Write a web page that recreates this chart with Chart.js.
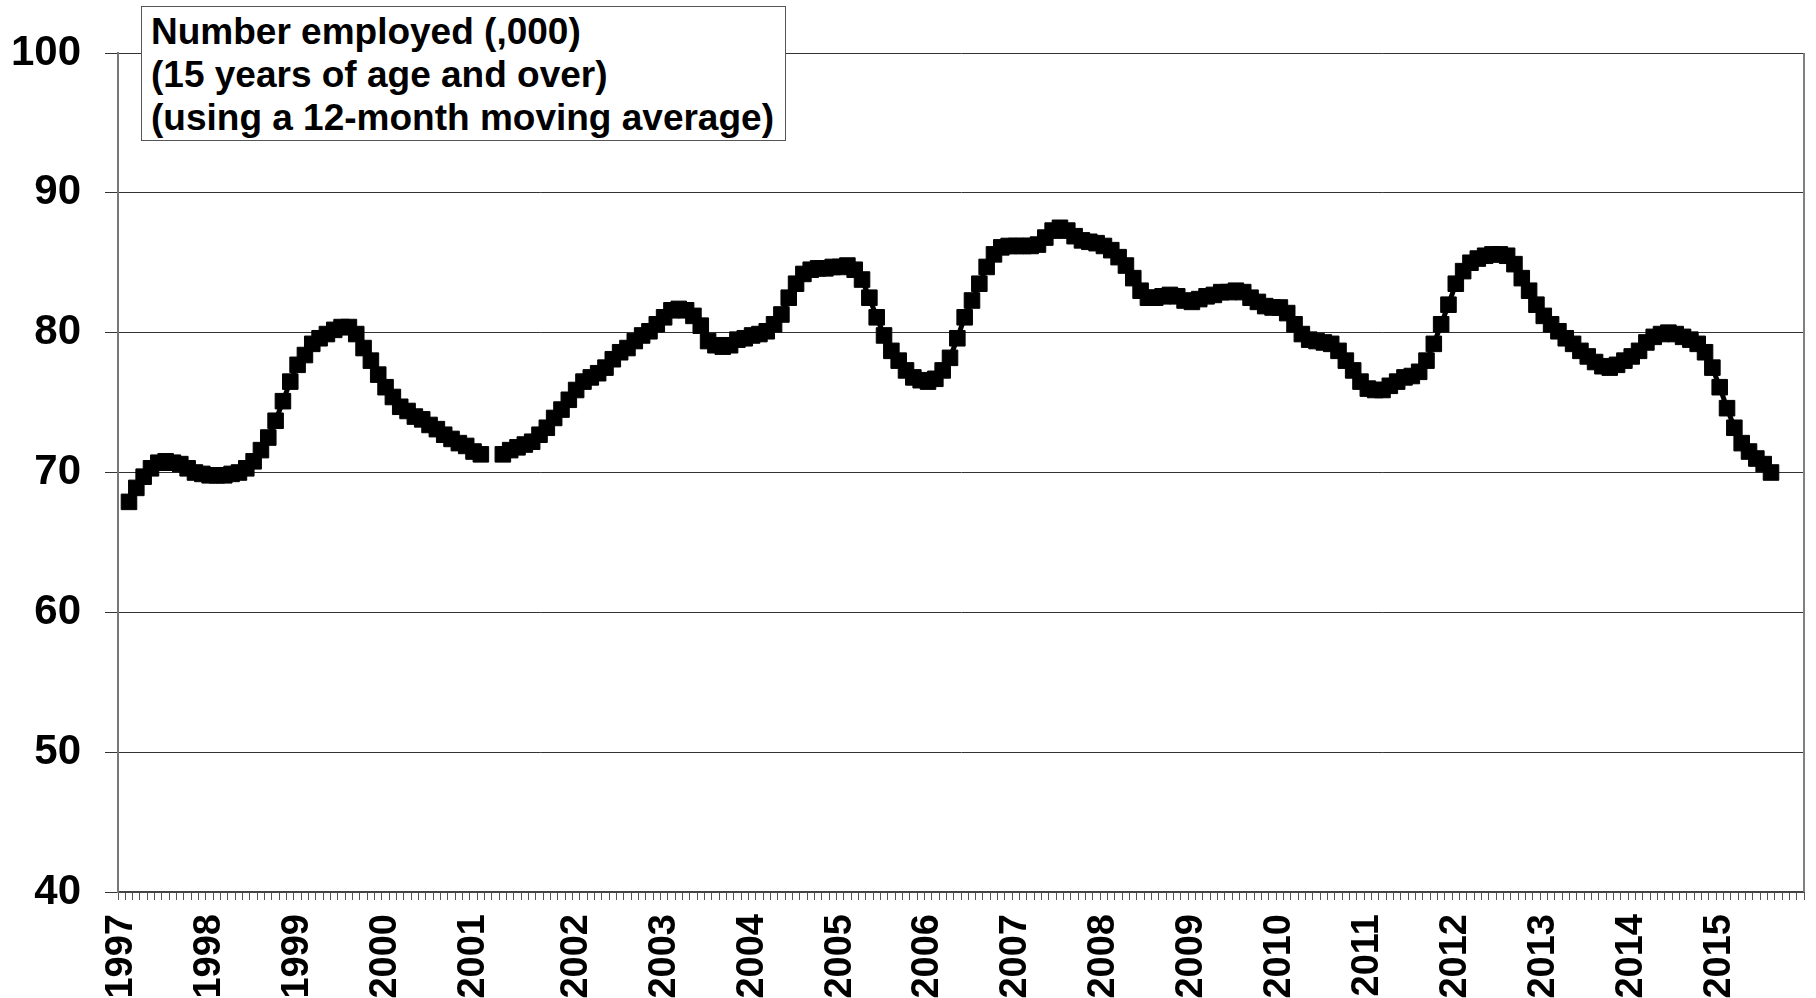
<!DOCTYPE html>
<html>
<head>
<meta charset="utf-8">
<script src="https://cdn.jsdelivr.net/npm/chart.js@4.4.0/dist/chart.umd.min.js"></script>
<style>
    body { margin: 0; background: #fff; }
    #wrap { position: relative; width: 1816px; height: 998px; }
    #noteBox {
        position: absolute;
        left: 141px;
        top: 6px;
        width: 634px;
        height: 130px;
        padding: 3px 0 0 9px;
        background: #fff;
        border: 1px solid #555;
        font-family: "Liberation Sans", Arial, sans-serif;
        font-weight: bold;
        font-size: 37px;
        line-height: 43px;
        color: #000;
        white-space: nowrap;
    }
</style>
</head>
<body>
<div id="wrap">
    <canvas id="employedChart"></canvas>
    <div id="noteBox">Number employed (,000)<br>(15 years of age and over)<br>(using a 12-month moving average)</div>
</div>
<script>
// Year tick labels and how many monthly categories each year holds
// (2001 carries two blank rows, which is why its band is wider)
const yearLabels = ['1997', '1998', '1999', '2000', '2001', '2002', '2003', '2004', '2005', '2006',
                    '2007', '2008', '2009', '2010', '2011', '2012', '2013', '2014', '2015'];
const monthsPerYear = [12, 12, 12, 12, 14, 12, 12, 12, 12, 12, 12, 12, 12, 12, 12, 12, 12, 12, 12];

// Number employed (,000), 12-month moving average, read month by month
const y1997 = [null, 67.9, 68.9, 69.7, 70.3, 70.7, 70.8, 70.7, 70.6, 70.3, 70.0, 69.9];
const y1998 = [69.8, 69.8, 69.8, 69.9, 70.0, 70.3, 70.8, 71.6, 72.5, 73.7, 75.1, 76.5];
const y1999 = [77.7, 78.4, 79.2, 79.6, 79.9, 80.2, 80.4, 80.4, 79.9, 78.9, 78.0, 77.0];
const y2000 = [76.1, 75.4, 74.7, 74.4, 74.0, 73.8, 73.4, 73.1, 72.7, 72.4, 72.1, 71.9];
const y2001 = [71.5, 71.3, null, null, 71.3, 71.6, 71.8, 72.0, 72.2, 72.7, 73.2, 73.9, 74.5, 75.2];
const y2002 = [75.9, 76.5, 76.8, 77.1, 77.5, 78.1, 78.6, 78.9, 79.4, 79.8, 80.1, 80.6];
const y2003 = [81.1, 81.6, 81.7, 81.6, 81.2, 80.5, 79.4, 79.1, 79.0, 79.1, 79.5, 79.6];
const y2004 = [79.8, 79.9, 80.1, 80.6, 81.3, 82.5, 83.5, 84.2, 84.5, 84.6, 84.6, 84.7];
const y2005 = [84.7, 84.8, 84.5, 83.8, 82.5, 81.1, 79.8, 78.7, 78.0, 77.3, 76.8, 76.6];
const y2006 = [76.5, 76.7, 77.3, 78.2, 79.6, 81.1, 82.3, 83.5, 84.7, 85.6, 86.1, 86.2];
const y2007 = [86.2, 86.2, 86.2, 86.3, 86.8, 87.3, 87.5, 87.3, 86.9, 86.6, 86.5, 86.4];
const y2008 = [86.2, 85.9, 85.4, 84.8, 83.9, 83.0, 82.5, 82.5, 82.6, 82.7, 82.6, 82.3];
const y2009 = [82.2, 82.4, 82.6, 82.7, 82.9, 82.9, 83.0, 82.9, 82.5, 82.2, 81.9, 81.8];
const y2010 = [81.8, 81.4, 80.6, 79.9, 79.5, 79.4, 79.3, 79.2, 78.7, 78.0, 77.3, 76.5];
const y2011 = [76.0, 75.9, 75.9, 76.2, 76.5, 76.8, 76.9, 77.2, 78.0, 79.2, 80.6, 82.0];
const y2012 = [83.5, 84.4, 85.0, 85.3, 85.5, 85.6, 85.6, 85.5, 84.9, 83.9, 83.0, 82.0];
const y2013 = [81.2, 80.6, 80.1, 79.6, 79.2, 78.7, 78.3, 77.9, 77.6, 77.5, 77.7, 78.0];
const y2014 = [78.3, 78.7, 79.3, 79.7, 79.9, 80.0, 79.9, 79.7, 79.5, 79.2, 78.6, 77.5];
const y2015 = [76.1, 74.6, 73.2, 72.1, 71.5, 71.0, 70.6, 70.0, null, null, null, null];

const yTicks = { min: 40, max: 100, step: 10 };

// Build the monthly categories: year name on the first month, blank otherwise
function buildCategories() {
    const cats = [];
    yearLabels.forEach((year, i) => {
        for (let m = 0; m < monthsPerYear[i]; m++) {
            cats.push(m === 0 ? year : '');
        }
    });
    return cats;
}

const categories = buildCategories();
const employed = [].concat(y1997, y1998, y1999, y2000, y2001, y2002, y2003, y2004, y2005, y2006,
                           y2007, y2008, y2009, y2010, y2011, y2012, y2013, y2014, y2015);

// Grey frame line on the right side of the plot area
const rightFrame = {
    id: 'rightFrame',
    afterDraw(chart) {
        const area = chart.chartArea;
        const ctx = chart.ctx;
        ctx.save();
        ctx.strokeStyle = '#808080';
        ctx.lineWidth = 2;
        ctx.beginPath();
        ctx.moveTo(area.right, area.top);
        ctx.lineTo(area.right, area.bottom);
        ctx.stroke();
        ctx.restore();
    }
};

Chart.defaults.font.family = '"Liberation Sans", Arial, sans-serif';
Chart.defaults.font.weight = 'bold';
Chart.defaults.color = '#000';

const ctx = document.getElementById('employedChart');

new Chart(ctx, {
    type: 'line',
    data: {
        labels: categories,
        datasets: [{
            label: 'Number employed',
            data: employed,
            borderColor: '#000',
            backgroundColor: '#000',
            borderWidth: 5,
            pointStyle: 'rect',
            pointRadius: 11,
            pointBorderWidth: 1,
            pointBackgroundColor: '#000',
            pointBorderColor: '#000',
            spanGaps: false,
            tension: 0
        }]
    },
    options: {
        responsive: true,
        maintainAspectRatio: false,
        animation: false,
        layout: {
            padding: { top: 53, right: 9, left: 0, bottom: 0 }
        },
        plugins: {
            legend: { display: false },
            tooltip: { enabled: false }
        },
        scales: {
            x: {
                offset: true,
                grid: {
                    offset: true,
                    drawOnChartArea: false,
                    tickLength: 8,
                    color: '#555',
                    lineWidth: 1
                },
                border: { color: '#444', width: 2 },
                ticks: {
                    autoSkip: false,
                    minRotation: 90,
                    maxRotation: 90,
                    padding: 14,
                    font: { size: 38, weight: 'bold' }
                },
                afterFit(scale) {
                    scale.height = 106;
                    scale.paddingLeft = 0;
                    scale.paddingRight = 0;
                }
            },
            y: {
                min: yTicks.min,
                max: yTicks.max,
                ticks: {
                    stepSize: yTicks.step,
                    padding: 24,
                    font: { size: 42, weight: 'bold' }
                },
                grid: {
                    color: '#333',
                    lineWidth: 1,
                    tickLength: 13
                },
                border: { color: '#777', width: 2 },
                afterFit(scale) {
                    scale.width = 118;
                    scale.paddingTop = 0;
                    scale.paddingBottom = 0;
                }
            }
        }
    },
    plugins: [rightFrame]
});
</script>
</body>
</html>
